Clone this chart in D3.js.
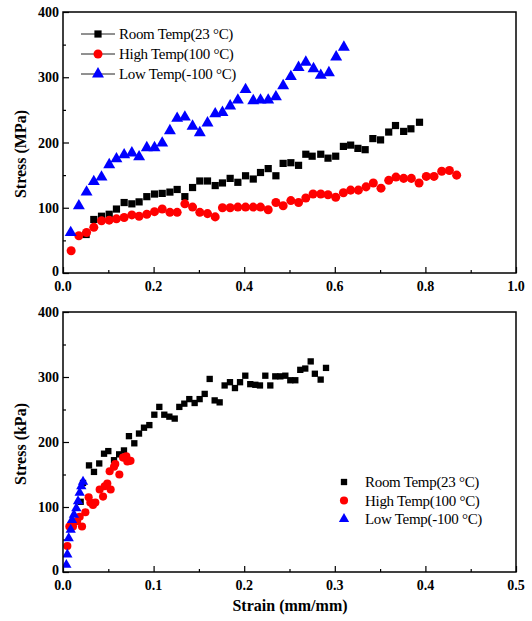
<!DOCTYPE html>
<html>
<head>
<meta charset="utf-8">
<script src="https://cdn.jsdelivr.net/npm/d3@7"></script>
<style>
  body { margin: 0; background: #fff; }
  svg { display: block; }
  .tick-label { font-family: "Liberation Serif", "Times New Roman", serif; font-weight: bold; font-size: 14px; }
  .axis-title { font-family: "Liberation Serif", "Times New Roman", serif; font-weight: bold; font-size: 16px; }
  .legend-text { font-family: "Liberation Serif", "Times New Roman", serif; font-size: 15px; letter-spacing: -0.3px; }
</style>
</head>
<body>
<div id="chart"></div>
<script>
var seriesNames = ["Room Temp(23 \u00B0C)", "High Temp(100 \u00B0C)", "Low Temp(-100 \u00B0C)"];
var seriesColors = ["#000000", "#ff0000", "#0000ff"];
var seriesShapes = ["square", "circle", "triangle"];

// top panel: stress (MPa) vs strain
var roomTop = [[0.051,59],[0.068,82],[0.085,87],[0.102,90],[0.118,98],[0.135,108],[0.152,106],[0.168,109],
  [0.185,117],[0.202,121],[0.219,122],[0.236,124],[0.252,128],[0.269,117],[0.286,131],[0.302,141],[0.319,141],
  [0.336,134],[0.352,138],[0.369,145],[0.386,139],[0.403,149],[0.420,144],[0.436,154],[0.453,160],[0.470,149],
  [0.486,168],[0.503,169],[0.520,165],[0.536,182],[0.550,179],[0.569,182],[0.585,176],[0.602,179],[0.619,194],
  [0.635,196],[0.651,191],[0.667,189],[0.684,206],[0.701,204],[0.719,216],[0.734,226],[0.752,217],[0.768,221],
  [0.787,231]];
var highTop = [[0.018,34],[0.035,57],[0.052,62],[0.068,70],[0.085,80],[0.102,81],[0.118,83],[0.135,85],
  [0.152,89],[0.168,87],[0.185,90],[0.202,94],[0.219,98],[0.236,93],[0.252,93],[0.269,106],[0.286,101],
  [0.302,93],[0.319,91],[0.336,86],[0.352,100],[0.369,100],[0.386,101],[0.403,101],[0.420,101],[0.436,101],
  [0.453,97],[0.470,108],[0.486,103],[0.503,111],[0.520,108],[0.536,115],[0.552,121],[0.569,121],[0.585,120],
  [0.602,116],[0.619,123],[0.635,127],[0.652,127],[0.669,132],[0.685,138],[0.702,130],[0.719,142],[0.735,147],
  [0.752,145],[0.769,145],[0.786,138],[0.802,148],[0.819,148],[0.836,156],[0.853,157],[0.869,150]];
var lowTop = [[0.017,62],[0.035,103],[0.052,124],[0.068,140],[0.085,147],[0.102,166],[0.118,175],[0.135,181],
  [0.152,184],[0.168,178],[0.185,192],[0.202,192],[0.219,199],[0.236,218],[0.252,237],[0.269,239],[0.286,225],
  [0.302,215],[0.319,230],[0.336,244],[0.352,246],[0.369,256],[0.386,265],[0.403,281],[0.420,264],[0.436,265],
  [0.453,265],[0.470,270],[0.486,287],[0.503,301],[0.520,315],[0.536,323],[0.553,313],[0.569,303],[0.587,307],
  [0.603,331],[0.620,346]];

// bottom panel: stress (kPa) vs strain
var roomBottom = [[0.0195,108],[0.0221,137],[0.0287,164],[0.0342,154],[0.0400,167],[0.0453,182],[0.0500,186],
  [0.0563,172],[0.0620,181],[0.0673,187],[0.0728,209],[0.0787,198],[0.0839,213],[0.0894,222],[0.0953,226],
  [0.1008,242],[0.1063,254],[0.1118,242],[0.1174,239],[0.1233,236],[0.1284,254],[0.1339,259],[0.1394,266],
  [0.1453,260],[0.1508,266],[0.1564,274],[0.1619,297],[0.1674,264],[0.1729,261],[0.1784,287],[0.1843,292],
  [0.1898,283],[0.1954,292],[0.2012,302],[0.2067,289],[0.2123,288],[0.2174,287],[0.2233,302],[0.2288,287],
  [0.2343,301],[0.2399,301],[0.2454,302],[0.2509,295],[0.2564,295],[0.2619,311],[0.2674,313],[0.2734,324],
  [0.2780,305],[0.2844,296],[0.2903,314]];
var highBottom = [[0.0048,40],[0.0070,70],[0.0110,70],[0.0155,78],[0.0184,85],[0.0210,70],[0.0247,92],
  [0.0283,115],[0.0302,107],[0.0331,103],[0.0357,107],[0.0405,127],[0.0442,116],[0.0460,132],[0.0489,136],
  [0.0526,127],[0.0515,155],[0.0563,162],[0.0577,166],[0.0622,150],[0.0662,176],[0.0699,178],[0.0710,170],
  [0.0745,171]];
var lowBottom = [[0.0037,11],[0.0048,27],[0.0063,52],[0.0085,65],[0.0099,80],[0.0121,88],[0.0147,98],
  [0.0166,109],[0.0184,122],[0.0202,132],[0.0221,139]];

var yTicks = [0, 100, 200, 300, 400];
var xTicksTop = [0, 0.2, 0.4, 0.6, 0.8, 1.0];
var xTicksBottom = [0, 0.1, 0.2, 0.3, 0.4, 0.5];

var W = 532, H = 621;
var svg = d3.select("#chart").append("svg")
  .attr("width", W).attr("height", H);
svg.append("rect").attr("width", W).attr("height", H).attr("fill", "#fff");

function symbolPath(shape, size) {
  var t = shape == "square" ? d3.symbolSquare : shape == "circle" ? d3.symbolCircle : d3.symbolTriangle;
  return d3.symbol().type(t).size(size)();
}

function drawPanel(opt) {
  var x = d3.scaleLinear().domain(opt.xDomain).range([opt.left, opt.right]);
  var y = d3.scaleLinear().domain([0, 400]).range([opt.bottom, opt.top]);
  var g = svg.append("g");

  var clipId = "clip" + opt.id;
  svg.append("clipPath").attr("id", clipId).append("rect")
    .attr("x", opt.left).attr("y", opt.top)
    .attr("width", opt.right - opt.left).attr("height", opt.bottom - opt.top);

  // inward ticks, major and minor
  var xAxis = d3.axisTop(x).tickValues(opt.xTicks).tickSize(6).tickFormat("");
  var xMinor = d3.axisTop(x).tickValues(opt.xMinor).tickSize(3).tickFormat("");
  var yAxis = d3.axisRight(y).tickValues(yTicks).tickSize(6).tickFormat("");
  var yMinor = d3.axisRight(y).tickValues([50, 150, 250, 350]).tickSize(3).tickFormat("");
  [xAxis, xMinor].forEach(function(a) {
    g.append("g").attr("transform", "translate(0," + opt.bottom + ")").call(a)
      .call(function(s) { s.select(".domain").remove(); s.selectAll("line").attr("stroke-width", 1.2); });
  });
  [yAxis, yMinor].forEach(function(a) {
    g.append("g").attr("transform", "translate(" + opt.left + ",0)").call(a)
      .call(function(s) { s.select(".domain").remove(); s.selectAll("line").attr("stroke-width", 1.2); });
  });

  g.selectAll(".xl").data(opt.xTicks).enter().append("text")
    .attr("class", "tick-label")
    .attr("x", function(d) { return x(d); })
    .attr("y", opt.bottom + 18)
    .attr("text-anchor", "middle")
    .text(function(d) { return d3.format(opt.xFmt)(d); });
  g.selectAll(".yl").data(yTicks).enter().append("text")
    .attr("class", "tick-label")
    .attr("x", opt.left - 4)
    .attr("y", function(d) { return y(d) + (d === 0 ? 3 : 5); })
    .attr("text-anchor", "end")
    .text(function(d) { return d; });

  g.append("text").attr("class", "axis-title")
    .attr("transform", "translate(" + (opt.left - 37) + "," + opt.yTitleMid + ") rotate(-90)")
    .attr("text-anchor", "middle")
    .text(opt.yTitle);

  var data = [opt.room, opt.high, opt.low];
  data.forEach(function(pts, i) {
    g.append("g").attr("clip-path", "url(#" + clipId + ")")
      .selectAll("path").data(pts).enter().append("path")
      .attr("d", symbolPath(seriesShapes[i], opt.sizes[i]))
      .attr("fill", seriesColors[i])
      .attr("transform", function(d) { return "translate(" + x(d[0]) + "," + y(d[1]) + ")"; });
  });

  g.append("rect")
    .attr("x", opt.left).attr("y", opt.top)
    .attr("width", opt.right - opt.left).attr("height", opt.bottom - opt.top)
    .attr("fill", "none").attr("stroke", "#000").attr("stroke-width", 1.5);

  // legend
  var lg = g.append("g");
  seriesNames.forEach(function(name, i) {
    var ly = opt.legY + i * opt.legStep;
    if (opt.legLines) {
      lg.append("line").attr("x1", opt.legX - 17).attr("x2", opt.legX + 17)
        .attr("y1", ly).attr("y2", ly).attr("stroke", "#222").attr("stroke-width", 1);
    }
    lg.append("path").attr("d", symbolPath(seriesShapes[i], opt.sizes[i]))
      .attr("fill", seriesColors[i])
      .attr("transform", "translate(" + opt.legX + "," + ly + ")");
    lg.append("text").attr("class", "legend-text")
      .attr("x", opt.legTextX).attr("y", ly + 5).text(name);
  });
}

drawPanel({
  id: "top", left: 63, right: 516, top: 12, bottom: 273,
  xDomain: [0, 1], xTicks: xTicksTop, xMinor: [0.1, 0.3, 0.5, 0.7, 0.9], xFmt: ".1f",
  room: roomTop, high: highTop, low: lowTop, sizes: [52, 64, 62],
  yTitle: "Stress (MPa)", yTitleMid: 154,
  legX: 98, legTextX: 119, legY: 34, legStep: 20, legLines: true
});

drawPanel({
  id: "bottom", left: 63, right: 516, top: 312, bottom: 572,
  xDomain: [0, 0.5], xTicks: xTicksBottom, xMinor: [0.05, 0.15, 0.25, 0.35, 0.45], xFmt: ".1f",
  room: roomBottom, high: highBottom, low: lowBottom, sizes: [40, 52, 46],
  yTitle: "Stress (kPa)", yTitleMid: 444,
  legX: 344, legTextX: 365, legY: 482, legStep: 18.5, legLines: false
});

svg.append("text").attr("class", "axis-title")
  .attr("x", 290).attr("y", 611)
  .attr("text-anchor", "middle")
  .text("Strain (mm/mm)");
</script>
</body>
</html>
